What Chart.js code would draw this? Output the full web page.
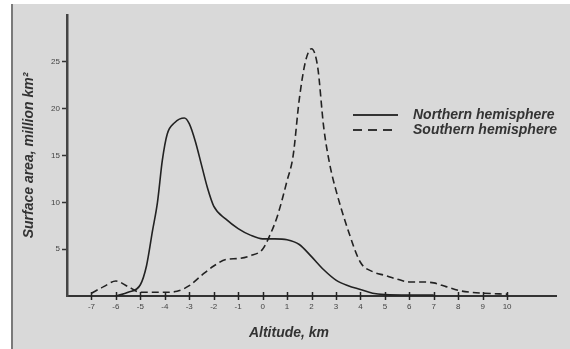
<!DOCTYPE html>
<html>
<head>
<meta charset="utf-8">
<script src="https://cdn.jsdelivr.net/npm/chart.js@4"></script>
<style>
  html, body { margin: 0; padding: 0; background: #fff; }
  body { width: 570px; height: 349px; position: relative; overflow: hidden; font-family: "Liberation Sans", Arial, sans-serif; }
  #panel { position: absolute; left: 11px; top: 4px; right: 0; bottom: 0; background: #d9d9d9; border-left: 2px solid #7a7a7a; }
  #wrap { position: absolute; left: 0; top: 0; width: 570px; height: 349px; }
  #legend { position: absolute; left: 353px; top: 107px; font: italic bold 14px "Liberation Sans", Arial, sans-serif; color: #333; }
  #legend .row { height: 15px; line-height: 15px; white-space: nowrap; }
  #legend .swatch { display: inline-block; width: 45px; height: 2px; vertical-align: middle; margin-right: 15px; background: #333; }
  #legend .dash { background: repeating-linear-gradient(to right, #333 0 9px, transparent 9px 15px); }
  #xtitle { position: absolute; left: 289px; top: 324px; transform: translateX(-50%); font: italic bold 14px "Liberation Sans", Arial, sans-serif; color: #333; white-space: nowrap; }
</style>
</head>
<body>
<div id="panel"></div>
<div id="wrap"><canvas id="chart" width="570" height="349"></canvas></div>
<div id="legend"></div>
<div id="xtitle">Altitude, km</div>
<script>
// altitude (km) and surface area (million km2)
const northAlt = [-6, -5.5, -5, -4.75, -4.5, -4.3, -4.1, -3.9, -3.6, -3.2, -3, -2.75, -2.5, -2.25, -2, -1.5, -1, -0.5, 0, 0.5, 1, 1.5, 2, 2.5, 3, 3.5, 4, 4.5, 5, 6, 7];
const northArea = [0, 0.4, 1.2, 3.2, 7, 10, 14.5, 17.3, 18.5, 19, 18.4, 16.5, 14, 11.5, 9.6, 8.2, 7.2, 6.5, 6.1, 6.1, 6.0, 5.5, 4.2, 2.8, 1.7, 1.1, 0.7, 0.3, 0.15, 0.1, 0.1];

const southAlt = [-7, -6.5, -6, -5.5, -5, -4, -3.5, -3, -2.5, -2, -1.5, -1, -0.5, 0, 0.3, 0.6, 1, 1.25, 1.5, 1.75, 2, 2.25, 2.5, 2.75, 3, 3.5, 4, 4.5, 5, 5.5, 6, 6.5, 7, 7.5, 8, 8.5, 9, 10];
const southArea = [0.3, 1.0, 1.6, 1.0, 0.4, 0.4, 0.5, 1.1, 2.2, 3.2, 3.9, 4.0, 4.3, 5.0, 6.5, 8.5, 12.3, 15, 21, 25, 26.4, 24.5, 18, 14, 11.3, 7, 3.6, 2.6, 2.2, 1.8, 1.5, 1.5, 1.4, 1.0, 0.6, 0.4, 0.3, 0.2];

const seriesNames = ['Northern hemisphere', 'Southern hemisphere'];
const xTickValues = [-7, -6, -5, -4, -3, -2, -1, 0, 1, 2, 3, 4, 5, 6, 7, 8, 9, 10];
const yTickValues = [5, 10, 15, 20, 25];

function toPoints(xs, ys) {
  return xs.map((x, i) => ({ x: x, y: ys[i] }));
}

// tick marks that cross the x axis
const crossTicks = {
  id: 'crossTicks',
  afterDraw(chart) {
    const ctx = chart.ctx;
    const xs = chart.scales.x;
    const y0 = chart.chartArea.bottom;
    ctx.save();
    ctx.strokeStyle = '#222';
    ctx.lineWidth = 1.5;
    xTickValues.forEach(v => {
      const px = Math.round(xs.getPixelForValue(v)) + 0.5;
      ctx.beginPath();
      ctx.moveTo(px, y0 - 4);
      ctx.lineTo(px, y0 + 4);
      ctx.stroke();
    });
    ctx.restore();
  }
};

const tickFont = { family: '"Liberation Sans", Arial, sans-serif', size: 8 };

new Chart(document.getElementById('chart'), {
  type: 'line',
  data: {
    datasets: [
      {
        label: seriesNames[0],
        data: toPoints(northAlt, northArea),
        borderColor: '#222',
        borderWidth: 1.6,
        pointRadius: 0,
        cubicInterpolationMode: 'monotone',
        fill: false
      },
      {
        label: seriesNames[1],
        data: toPoints(southAlt, southArea),
        borderColor: '#222',
        borderWidth: 1.6,
        borderDash: [7, 4],
        pointRadius: 0,
        cubicInterpolationMode: 'monotone',
        fill: false
      }
    ]
  },
  options: {
    responsive: false,
    animation: false,
    layout: { padding: { left: 17, top: 15, right: 14, bottom: 0 } },
    plugins: {
      legend: { display: false },
      tooltip: { enabled: false }
    },
    scales: {
      x: {
        type: 'linear',
        min: -8,
        max: 12,
        afterBuildTicks: s => { s.ticks = xTickValues.map(v => ({ value: v })); },
        afterFit: s => { s.height = 53; },
        ticks: { color: '#444', font: tickFont, padding: 6, maxRotation: 0, autoSkip: false },
        grid: { display: false, drawTicks: false },
        border: { color: '#333', width: 2 }
      },
      y: {
        min: 0,
        max: 30,
        afterBuildTicks: s => { s.ticks = yTickValues.map(v => ({ value: v })); },
        afterFit: s => { s.width = 50; },
        ticks: { color: '#444', font: tickFont, padding: 2 },
        grid: { drawOnChartArea: false, tickLength: 5, color: '#333', tickWidth: 1.5 },
        border: { color: '#444', width: 2.5 },
        title: {
          display: true,
          text: 'Surface area, million km\u00b2',
          color: '#333',
          font: { family: '"Liberation Sans", Arial, sans-serif', size: 14, style: 'italic', weight: 'bold' },
          padding: { top: 4, bottom: 0 }
        }
      }
    }
  },
  plugins: [crossTicks]
});

// legend built from the series names
const legend = document.getElementById('legend');
seriesNames.forEach((name, i) => {
  const row = document.createElement('div');
  row.className = 'row';
  const sw = document.createElement('span');
  sw.className = 'swatch' + (i === 1 ? ' dash' : '');
  const txt = document.createElement('span');
  txt.textContent = name;
  row.appendChild(sw);
  row.appendChild(txt);
  legend.appendChild(row);
});
</script>
</body>
</html>
